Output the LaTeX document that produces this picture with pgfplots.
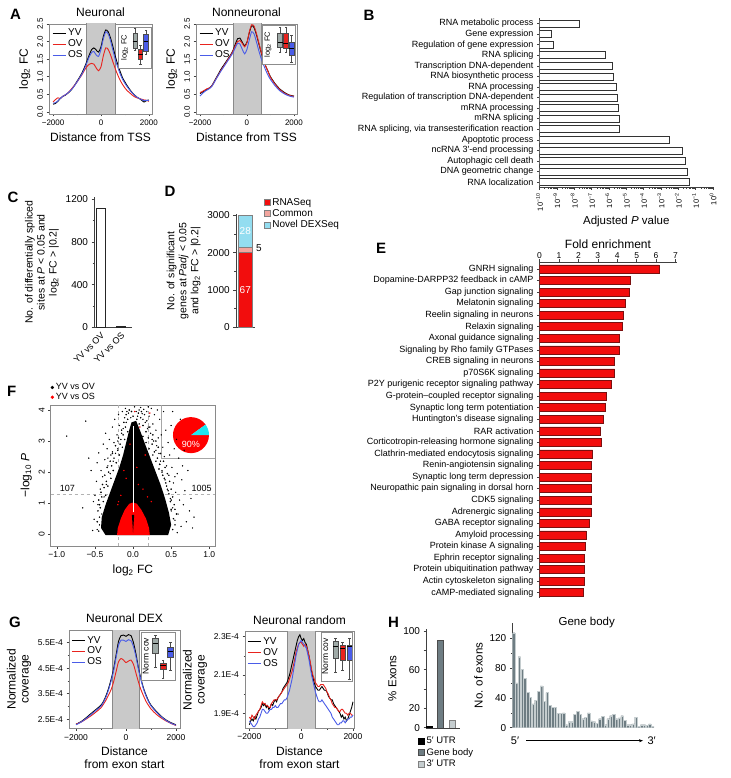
\documentclass[border=0pt]{standalone}
\usepackage{fontspec}
\setmainfont{Liberation Sans}
\usepackage{pgfplots}
\pgfplotsset{compat=1.18}
\usetikzlibrary{arrows.meta}

\definecolor{cOV}{HTML}{E8231E}
\definecolor{cOS}{HTML}{4A5CE8}
\definecolor{shade}{HTML}{C9C9C9}
\definecolor{frame}{HTML}{8A8A8A}
\definecolor{boxgray}{HTML}{9FAAA7}
\definecolor{barred}{HTML}{F20D0D}
\definecolor{baredge}{HTML}{7A1010}
\definecolor{common}{HTML}{F2A59E}
\definecolor{novel}{HTML}{93DDF0}
\definecolor{piecyan}{HTML}{1EE6F0}
\definecolor{slate}{HTML}{6E7D83}
\definecolor{lightslate}{HTML}{C5CDCF}

\newcommand{\fs}[2]{\fontsize{#1}{#2}\selectfont}
% box of an inset boxplot: centre, left, right, low whisker, low quartile, median, up quartile, up whisker, colour
\newcommand{\bx}[9]{%
  \addplot[black!70, line width=0.4pt, mark=-, mark size=1.3pt] coordinates {(#1,#4)(#1,#5)};
  \addplot[black!70, line width=0.4pt, mark=-, mark size=1.3pt] coordinates {(#1,#7)(#1,#8)};
  \addplot[fill=#9, draw=black!70, line width=0.4pt] coordinates {(#2,#5)(#3,#5)(#3,#7)(#2,#7)} -- cycle;
  \addplot[black, line width=0.5pt] coordinates {(#2,#6)(#3,#6)};
}

\pgfplotsset{
  every axis/.append style={scale only axis, anchor=south west,
    /pgf/number format/assume math mode=true, /pgf/number format/1000 sep={},
    tick align=outside, major tick length=2.5pt, minor tick length=1.5pt,
    axis line style={black!75}, every tick/.style={black!75, line width=0.5pt}},
  prof/.style={
    axis line style={frame, line width=0.9pt},
    tick pos=left,
    xtick={-2000,0,2000}, xticklabels={−2000,0,2000}, minor xtick={-1000,1000},
    tick label style={font=\fs{8}{9}},
    label style={font=\fs{12}{13}},
    title style={font=\fs{12}{13}, yshift=-2pt},
    legend style={draw=none, fill=none, font=\fs{10}{11}, at={(0.03,0.97)},
      anchor=north west, inner sep=0pt, row sep=-1.5pt, cells={anchor=west}},
    legend image code/.code={\draw[#1] (0pt,0pt) -- (13pt,0pt);},
  },
  inset/.style={axis line style={draw=black!45, line width=0.5pt},
    axis background/.style={fill=white}, xtick=\empty, ytick=\empty,
    ylabel style={at={(axis description cs:#1,0.5)}, anchor=center, font=\fs{7.5}{8}}},
}

\begin{document}
\begin{tikzpicture}
\useasboundingbox (0pt,-778pt) rectangle (730pt,0pt);

% ---------- panel letters and loose text
\foreach \l/\x/\y in {A/15.5/14, B/369/15, C/13/197, D/170/191, E/381/248, F/11.7/391, G/15/622, H/393.5/622}
  \node[font=\bfseries\fs{15}{15}] at (\x pt,-\y pt) {\l};
\node[font=\fs{11.5}{12}] at (586.7pt,-622.3pt) {Gene body};
\node[font=\fs{11}{12}] at (515pt,-740.7pt) {5′};
\node[font=\fs{11}{12}] at (651.7pt,-740.7pt) {3′};
\draw[-{Stealth[length=4pt]}, line width=0.6pt] (526pt,-740.7pt) -- (643pt,-740.7pt);

% ---------- A neuronal
\begin{axis}[prof, at={(49pt,-114pt)}, width=103pt, height=90pt,
  xmin=-2170, xmax=2130, ymin=-0.06, ymax=2.5,
  ytick={0,0.5,1,1.5,2,2.5},
  yticklabel style={rotate=90, anchor=south, /pgf/number format/fixed,
    /pgf/number format/fixed zerofill, /pgf/number format/precision=1},
  title={Neuronal}, xlabel={Distance from TSS}, ylabel={log\textsubscript{2} FC}]
\addplot[fill=shade, draw=frame, line width=0.6pt, forget plot]
  coordinates {(-600,-1)(-600,3)(600,3)(600,-1)} -- cycle;
\addplot[black, line width=0.9pt, smooth, tension=0.4] coordinates {
 (-2000,0.22)(-1900,0.24)(-1800,0.30)(-1700,0.38)(-1600,0.44)(-1500,0.47)(-1400,0.52)
 (-1300,0.58)(-1200,0.66)(-1100,0.76)(-1000,0.87)(-900,0.98)(-800,1.10)(-700,1.25)
 (-600,1.42)(-500,1.60)(-400,1.76)(-300,1.82)(-200,1.76)(-100,1.70)(0,1.85)(100,2.15)
 (200,2.33)(300,2.28)(400,2.10)(500,1.85)(600,1.58)(700,1.35)(800,1.15)(900,0.97)
 (1000,0.85)(1100,0.74)(1200,0.64)(1300,0.55)(1400,0.48)(1500,0.42)(1600,0.38)
 (1700,0.33)(1800,0.28)(1900,0.32)(2000,0.34)};
\addlegendentry{YV}
\addplot[cOV, line width=0.9pt, smooth, tension=0.4] coordinates {
 (-2000,0.28)(-1900,0.35)(-1800,0.40)(-1700,0.38)(-1600,0.44)(-1500,0.48)(-1400,0.53)
 (-1300,0.60)(-1200,0.68)(-1100,0.76)(-1000,0.85)(-900,0.95)(-800,1.05)(-700,1.17)
 (-600,1.28)(-500,1.35)(-400,1.38)(-300,1.36)(-200,1.25)(-100,1.17)(0,1.28)(100,1.60)
 (200,1.82)(300,1.78)(400,1.62)(500,1.42)(600,1.22)(700,1.05)(800,0.90)(900,0.78)
 (1000,0.68)(1100,0.60)(1200,0.54)(1300,0.48)(1400,0.43)(1500,0.40)(1600,0.38)
 (1700,0.36)(1800,0.34)(1900,0.33)(2000,0.30)};
\addlegendentry{OV}
\addplot[cOS, line width=0.9pt, smooth, tension=0.4] coordinates {
 (-2000,0.25)(-1900,0.26)(-1800,0.31)(-1700,0.38)(-1600,0.44)(-1500,0.48)(-1400,0.53)
 (-1300,0.59)(-1200,0.66)(-1100,0.75)(-1000,0.85)(-900,0.96)(-800,1.07)(-700,1.21)
 (-600,1.38)(-500,1.55)(-400,1.68)(-300,1.72)(-200,1.62)(-100,1.58)(0,1.78)(100,2.08)
 (200,2.28)(300,2.22)(400,2.02)(500,1.75)(600,1.48)(700,1.27)(800,1.08)(900,0.93)
 (1000,0.81)(1100,0.71)(1200,0.62)(1300,0.54)(1400,0.47)(1500,0.42)(1600,0.38)
 (1700,0.35)(1800,0.32)(1900,0.33)(2000,0.32)};
\addlegendentry{OS}
\end{axis}
\begin{axis}[inset=0.2, at={(118pt,-68pt)}, width=33pt, height=41pt,
  xmin=-2.15, xmax=3.96, ymin=-5, ymax=118, ylabel={log\textsubscript{2} FC}]
\bx{1}{0.58}{1.42}{47}{55}{75}{100}{115}{boxgray}
\bx{2}{1.58}{2.42}{5}{20}{35}{50}{62}{cOV}
\bx{3}{2.58}{3.42}{35}{45}{75}{95}{108}{cOS}
\end{axis}

% ---------- A nonneuronal
\begin{axis}[prof, at={(196pt,-114pt)}, width=101pt, height=90pt,
  xmin=-2170, xmax=2130, ymin=-0.06, ymax=2.5,
  ytick={0,0.5,1,1.5,2,2.5},
  yticklabel style={rotate=90, anchor=south, /pgf/number format/fixed,
    /pgf/number format/fixed zerofill, /pgf/number format/precision=1},
  title={Nonneuronal}, xlabel={Distance from TSS}, ylabel={log\textsubscript{2} FC}]
\addplot[fill=shade, draw=frame, line width=0.6pt, forget plot]
  coordinates {(-600,-1)(-600,3)(600,3)(600,-1)} -- cycle;
\addplot[black, line width=0.9pt, smooth, tension=0.4] coordinates {
 (-2000,0.52)(-1900,0.56)(-1800,0.60)(-1700,0.64)(-1600,0.68)(-1500,0.74)(-1400,0.86)
 (-1300,0.98)(-1200,1.10)(-1100,1.22)(-1000,1.32)(-900,1.42)(-800,1.52)(-700,1.62)
 (-600,1.74)(-500,1.92)(-400,2.08)(-300,2.10)(-200,1.98)(-100,1.88)(0,1.98)(100,2.25)
 (200,2.45)(300,2.40)(400,2.20)(500,1.95)(600,1.70)(700,1.50)(800,1.30)(900,1.15)
 (1000,1.00)(1200,0.80)(1400,0.65)(1600,0.55)(1800,0.48)(2000,0.45)};
\addlegendentry{YV}
\addplot[cOV, line width=0.9pt, smooth, tension=0.4] coordinates {
 (-2000,0.55)(-1900,0.58)(-1800,0.62)(-1700,0.66)(-1600,0.68)(-1500,0.73)(-1400,0.84)
 (-1300,0.96)(-1200,1.07)(-1100,1.19)(-1000,1.29)(-900,1.39)(-800,1.50)(-700,1.60)
 (-600,1.72)(-500,1.88)(-400,2.00)(-300,2.03)(-200,1.95)(-100,1.85)(0,1.97)(100,2.28)
 (200,2.48)(300,2.44)(400,2.24)(500,1.98)(600,1.72)(700,1.50)(800,1.30)(900,1.14)
 (1000,0.98)(1200,0.78)(1400,0.63)(1600,0.53)(1800,0.47)(2000,0.44)};
\addlegendentry{OV}
\addplot[cOS, line width=0.9pt, smooth, tension=0.4] coordinates {
 (-2000,0.45)(-1900,0.52)(-1800,0.58)(-1700,0.62)(-1600,0.66)(-1500,0.72)(-1400,0.83)
 (-1300,0.95)(-1200,1.06)(-1100,1.17)(-1000,1.27)(-900,1.37)(-800,1.47)(-700,1.57)
 (-600,1.68)(-500,1.82)(-400,1.95)(-300,1.93)(-200,1.78)(-100,1.65)(0,1.78)(100,2.05)
 (200,2.28)(300,2.22)(400,2.00)(500,1.75)(600,1.53)(700,1.35)(800,1.18)(900,1.04)
 (1000,0.92)(1200,0.74)(1400,0.60)(1600,0.51)(1800,0.45)(2000,0.42)};
\addlegendentry{OS}
\end{axis}
\begin{axis}[inset=0.18, at={(262pt,-64pt)}, width=33pt, height=39pt,
  xmin=-2.16, xmax=3.6, ymin=6, ymax=45, ylabel={log\textsubscript{2} FC}]
\bx{1}{0.55}{1.45}{18}{23}{28}{37}{43}{boxgray}
\bx{2}{1.55}{2.45}{18}{22}{26.7}{37}{43}{cOV}
\bx{3}{2.55}{3.45}{8}{15}{21.7}{28}{35}{cOS}
\end{axis}

% ---------- B
\begin{axis}[at={(539.5pt,-187.3pt)}, width=173.5pt, height=169pt,
  xbar, xmode=log, log origin x=infty, xmin=1e-10, xmax=1, ymin=0.5, ymax=16.5,
  axis x line*=bottom, axis y line*=left, bar width=7pt,
  xtick={1e-10,1e-9,1e-8,1e-7,1e-6,1e-5,1e-4,1e-3,1e-2,1e-1,1},
  xticklabels={10\textsuperscript{−10},10\textsuperscript{−9},10\textsuperscript{−8},
    10\textsuperscript{−7},10\textsuperscript{−6},10\textsuperscript{−5},10\textsuperscript{−4},
    10\textsuperscript{−3},10\textsuperscript{−2},10\textsuperscript{−1},10\textsuperscript{0}},
  xticklabel style={rotate=90, anchor=east, font=\fs{7.5}{8}},
  ytick={1,...,16},
  yticklabels={RNA localization, DNA geometric change, Autophagic cell death,
    ncRNA 3′-end processing, Apoptotic process, {RNA splicing, via transesterification reaction},
    mRNA splicing, mRNA processing, Regulation of transcription DNA-dependent, RNA processing,
    RNA biosynthetic process, Transcription DNA-dependent, RNA splicing,
    Regulation of gene expression, Gene expression, RNA metabolic process},
  yticklabel style={font=\fs{9}{10}},
  xlabel={Adjusted \textit{P} value}, xlabel style={font=\fs{11.5}{12}, yshift=2pt}]
\addplot[fill=white, draw=black!80, line width=0.6pt] coordinates {
 (4.1e-2,1)(3.5e-2,2)(2.4e-2,3)(1.78e-2,4)(2.95e-3,5)(3.9e-6,6)(3.9e-6,7)(3.5e-6,8)
 (3.2e-6,9)(2.8e-6,10)(1.74e-6,11)(1.66e-6,12)(6.5e-7,13)(6.5e-10,14)(4.9e-10,15)(2.1e-8,16)};
\end{axis}

% ---------- C
\begin{axis}[at={(94pt,-327.3pt)}, width=38pt, height=130pt,
  ybar, bar width=9pt, xmin=0.68, xmax=2.56, ymin=0, ymax=1220,
  axis x line*=bottom, axis y line*=left,
  xtick={1,2}, xticklabels={YV vs OV, YV vs OS}, xtick style={draw=none},
  xticklabel style={rotate=45, anchor=north east, font=\fs{9}{10}, inner sep=1pt},
  ytick={0,400,800,1200}, minor ytick={200,600,1000},
  yticklabel style={font=\fs{10}{11}},
  ylabel={No. of differentially spliced\\sites at \textit{P} < 0.05 and\\log\textsubscript{2} FC > |0.2|},
  ylabel style={align=center, font=\fs{10.5}{12}}]
\addplot[fill=white, draw=black!85, line width=0.6pt] coordinates {(1,1115)(2,8)};
\end{axis}

% ---------- D
\begin{axis}[at={(235.7pt,-327.3pt)}, width=19.3pt, height=113pt,
  ybar stacked, bar width=14pt, xmin=0.4, xmax=1.6, ymin=0, ymax=3030,
  axis x line*=bottom, axis y line*=left, xtick=\empty,
  ytick={0,1000,2000,3000}, minor ytick={500,1500,2500},
  yticklabel style={font=\fs{10}{11}},
  ylabel={No. of significant\\genes at \textit{Padj} < 0.05\\and log\textsubscript{2} FC > |0.2|},
  ylabel style={align=center, font=\fs{10.5}{12}},
  legend style={at={(axis description cs:1.45,1.16)}, anchor=north west, draw=none,
    fill=none, font=\fs{10}{11}, inner sep=0pt, row sep=-1.5pt, cells={anchor=west}},
  legend image code/.code={\draw[#1] (0pt,-3pt) rectangle (6pt,3pt);}]
\addplot[fill=barred, draw=black!50] coordinates {(1,2010)};
\addlegendentry{RNASeq}
\addplot[fill=common, draw=black!50] coordinates {(1,150)};
\addlegendentry{Common}
\addplot[fill=novel, draw=black!50] coordinates {(1,840)};
\addlegendentry{Novel DEXSeq}
\end{axis}
\node[white, font=\fs{10}{11}] at (245.3pt,-290pt) {67};
\node[white, font=\fs{10}{11}] at (245.3pt,-231pt) {28};
\node[font=\fs{10}{11}] at (259pt,-248.5pt) {5};

% ---------- E
\begin{axis}[at={(539.5pt,-598pt)}, width=137pt, height=336pt,
  xbar, bar width=8pt, xmin=0, xmax=7.05, ymin=0.54, ymax=29.6,
  axis x line*=top, axis y line*=left,
  xtick={0,...,7}, xticklabel style={font=\fs{8.5}{9}, inner sep=1pt},
  xlabel={Fold enrichment}, xlabel style={font=\fs{12}{13}, yshift=-1pt},
  ytick={1,...,29},
  yticklabels={cAMP-mediated signaling, Actin cytoskeleton signaling,
    Protein ubiquitination pathway, Ephrin receptor signaling, Protein kinase A signaling,
    Amyloid processing, GABA receptor signaling, Adrenergic signaling, CDK5 signaling,
    Neuropathic pain signaling in dorsal horn, Synaptic long term depression,
    Renin-angiotensin signaling, Clathrin-mediated endocytosis signaling,
    Corticotropin-releasing hormone signaling, RAR activation, Huntington’s disease signaling,
    Synaptic long term potentiation, G-protein–coupled receptor signaling,
    P2Y purigenic receptor signaling pathway, p70S6K signaling, CREB signaling in neurons,
    Signaling by Rho family GTPases, Axonal guidance signaling, Relaxin signaling,
    Reelin signaling in neurons, Melatonin signaling, Gap junction signaling,
    Dopamine-DARPP32 feedback in cAMP, GNRH signaling},
  yticklabel style={font=\fs{9}{10}}]
\addplot[fill=barred, draw=baredge, line width=0.5pt] coordinates {
 (2.23,1)(2.28,2)(2.28,3)(2.28,4)(2.33,5)(2.38,6)(2.56,7)(2.64,8)(2.64,9)(2.64,10)
 (2.67,11)(2.64,12)(2.73,13)(3.17,14)(3.15,15)(3.27,16)(3.36,17)(3.46,18)(3.67,19)
 (3.87,20)(3.87,21)(4.10,22)(4.10,23)(4.25,24)(4.32,25)(4.39,26)(4.60,27)(4.65,28)(6.14,29)};
\end{axis}

% ---------- F
\begin{axis}[at={(50.7pt,-546pt)}, width=164.3pt, height=141pt,
  xmin=-1.08, xmax=1.075, ymin=-0.38, ymax=4.16,
  axis line style={frame, line width=0.9pt}, tick pos=left,
  xtick={-1,-0.5,0,0.5,1}, xticklabels={−1.0,−0.5,0.0,0.5,1.0},
  ytick={0,1,2,3,4}, yticklabel style={rotate=90, anchor=south},
  tick label style={font=\fs{8.5}{9}}, label style={font=\fs{12}{13}},
  xlabel={log\textsubscript{2} FC}, ylabel={−log\textsubscript{10} \textit{P}},
  legend style={at={(axis description cs:0,1.012)}, anchor=south west, draw=none,
    fill=none, font=\fs{9}{10}, inner sep=0pt, row sep=-2pt, cells={anchor=west}}]
\addlegendimage{only marks, mark=*, mark size=1.5pt, black}
\addlegendentry{YV vs OV}
\addlegendimage{only marks, mark=*, mark size=1.5pt, red}
\addlegendentry{YV vs OS}
\addplot[gray!60, dashed, line width=0.5pt, forget plot] coordinates {(-0.2,-0.38)(-0.2,4.16)};
\addplot[gray!60, dashed, line width=0.5pt, forget plot] coordinates {(0.2,-0.38)(0.2,4.16)};
\addplot[gray!60, dashed, line width=0.5pt, forget plot] coordinates {(-1.08,1.3)(1.075,1.3)};
% dense core of the point cloud
\addplot[fill=black, draw=none, forget plot] coordinates {
 (-0.36,-0.03)(-0.42,0.20)(-0.41,0.55)(-0.36,0.95)(-0.30,1.35)(-0.24,1.75)(-0.18,2.15)
 (-0.13,2.55)(-0.09,2.95)(-0.05,3.35)(-0.02,3.60)(0.04,3.65)(0.09,3.35)(0.15,2.95)
 (0.22,2.50)(0.29,2.05)(0.36,1.60)(0.42,1.15)(0.47,0.70)(0.50,0.30)(0.46,-0.03)} -- cycle;
\addplot[only marks, mark=*, mark size=0.55pt, black, forget plot] coordinates {
 (-0.45,0.10)(-0.47,0.40)(-0.44,0.55)(-0.46,0.75)(-0.43,0.85)(-0.45,1.10)(-0.41,1.20)
 (-0.42,1.35)(-0.38,1.50)(-0.40,1.60)(-0.35,1.70)(-0.37,1.90)(-0.32,2.00)(-0.34,2.15)
 (-0.28,2.20)(-0.30,2.35)(-0.25,2.45)(-0.27,2.60)(-0.20,2.70)(-0.23,2.85)(-0.17,2.90)
 (-0.19,3.10)(-0.13,3.20)(-0.15,3.35)(-0.10,3.45)(-0.12,3.60)(-0.07,3.70)(-0.09,3.85)
 (-0.05,4.00)(-0.44,0.95)(-0.39,1.05)(-0.36,1.25)(-0.33,1.55)(-0.29,1.80)(-0.26,2.05)
 (-0.22,2.30)(-0.18,2.55)(-0.14,2.80)(-0.11,3.05)(-0.07,3.30)
 (0.52,0.15)(0.55,0.30)(0.53,0.50)(0.57,0.65)(0.50,0.80)(0.54,0.95)(0.49,1.05)(0.52,1.20)
 (0.47,1.30)(0.50,1.45)(0.44,1.55)(0.48,1.70)(0.41,1.80)(0.45,1.95)(0.38,2.00)(0.42,2.15)
 (0.35,2.25)(0.40,2.35)(0.32,2.45)(0.36,2.60)(0.28,2.65)(0.33,2.80)(0.25,2.90)(0.30,3.00)
 (0.20,3.10)(0.26,3.20)(0.17,3.30)(0.22,3.45)(0.13,3.50)(0.18,3.65)(0.10,3.75)(0.15,3.85)
 (0.05,3.70)(0.20,4.10)(0.11,3.95)(0.55,0.80)(0.50,1.10)(0.46,1.40)(0.43,1.65)(0.39,1.90)
 (0.34,2.10)(0.30,2.35)(0.26,2.55)(0.21,2.75)(0.17,2.95)(0.13,3.15)(0.08,3.55)(0.00,3.80)
 (-0.02,3.95)(0.07,3.90)};
\addplot[only marks, mark=*, mark size=0.45pt, black, forget plot] coordinates {
 (-0.87,3.16)(-0.62,3.64)(-0.66,0.85)(-0.58,2.45)(-0.55,2.05)(-0.53,0.12)(-0.51,0.48)
 (-0.50,1.25)(-0.48,1.70)(-0.47,2.30)(-0.46,0.95)(-0.45,2.62)(-0.44,0.30)(-0.43,1.45)
 (-0.42,2.05)(-0.41,0.65)(-0.40,1.85)(-0.39,2.90)(-0.38,1.20)(-0.37,2.40)(-0.36,3.25)
 (-0.35,1.60)(-0.34,2.75)(-0.33,2.20)(-0.31,3.05)(-0.30,1.95)(-0.29,2.55)(-0.27,3.45)
 (-0.26,2.35)(-0.25,2.95)(-0.24,3.70)(-0.23,2.60)(-0.21,3.20)(-0.20,2.75)(-0.19,3.85)
 (-0.18,3.50)(-0.16,3.05)(-0.14,3.95)(-0.13,3.40)(-0.11,3.75)(-0.10,4.05)(-0.09,3.60)
 (0.10,4.08)(0.12,3.88)(0.14,4.02)(0.16,3.60)(0.18,3.95)(0.20,3.45)(0.21,3.80)(0.23,3.25)
 (0.24,4.05)(0.26,3.55)(0.27,3.00)(0.28,3.85)(0.30,3.35)(0.31,2.85)(0.32,4.00)(0.33,3.10)
 (0.34,2.60)(0.35,3.70)(0.36,2.35)(0.37,3.20)(0.38,2.05)(0.39,2.80)(0.40,3.95)(0.41,2.50)
 (0.42,1.75)(0.43,3.35)(0.44,2.20)(0.45,1.45)(0.46,2.95)(0.47,1.90)(0.48,2.55)(0.49,1.15)
 (0.50,3.50)(0.51,2.15)(0.52,0.85)(0.53,1.65)(0.54,2.75)(0.55,0.45)(0.56,1.35)(0.57,3.05)
 (0.58,1.95)(0.59,0.65)(0.60,2.45)(0.61,1.10)(0.62,3.70)(0.63,0.25)(0.64,1.75)(0.65,2.20)
 (0.66,0.95)(0.68,1.40)(0.70,0.40)(0.72,2.05)(0.74,0.75)(0.76,1.15)(0.78,0.20)(0.80,0.55)
 (0.58,0.05)(0.67,2.70)(0.52,3.95)(-0.52,1.05)(-0.47,0.15)(0.55,1.85)(0.46,0.35)(0.50,0.75)
 (-0.06,3.90)(0.02,4.10)(0.06,3.80)(-0.03,3.75)(0.08,4.00)(-0.08,3.95)(0.04,3.95)(0.13,3.70)
 (-0.15,3.25)(0.19,3.40)(-0.20,3.00)(0.25,3.05)(0.30,2.70)(-0.27,2.65)(0.35,2.25)(-0.33,2.45)};
\addplot[fill=red, draw=none, forget plot] coordinates {
 (-0.21,-0.03)(-0.20,0.20)(-0.16,0.50)(-0.11,0.78)(-0.05,0.98)(0,1.02)(0.05,0.98)
 (0.11,0.78)(0.17,0.50)(0.21,0.20)(0.22,-0.03)} -- cycle;
\addplot[fill=black, draw=none, forget plot] coordinates {(-0.015,0.62)(0,0.05)(0.015,0.62)} -- cycle;
\addplot[white, line width=0.9pt, forget plot] coordinates {(0.004,0.7)(0.004,3.5)};
\addplot[only marks, mark=*, mark size=0.5pt, red, forget plot] coordinates {
 (-0.16,1.25)(0.13,1.45)(-0.09,1.80)(0.05,2.15)(0.16,2.55)(-0.12,2.05)(0.19,1.20)
 (-0.19,1.05)(0.09,3.45)(0.22,3.90)(-0.04,2.90)(0.07,1.60)(-0.20,0.95)(0.24,1.05)(0.02,3.95)};
\addplot[gray!70, line width=0.6pt, forget plot] coordinates {(0.37,4.16)(0.37,2.44)(1.075,2.44)};
\fill[red] (axis cs:0.76,3.19) -- ++(36:18pt) arc[start angle=36, end angle=360, radius=18pt] -- cycle;
\fill[piecyan] (axis cs:0.76,3.19) -- ++(0:18pt) arc[start angle=0, end angle=36, radius=18pt] -- cycle;
\node[white, font=\fs{9}{10}] at (axis cs:0.76,3.19) [yshift=-9pt] {90\%};
\node[font=\fs{9}{10}] at (axis cs:-0.86,1.47) {107};
\node[font=\fs{9}{10}] at (axis cs:0.9,1.47) {1005};
\end{axis}

% ---------- G neuronal DEX
\begin{axis}[prof, at={(69pt,-728.3pt)}, width=111pt, height=98.3pt,
  xmin=-2280, xmax=2160, ymin=2.14, ymax=6.0,
  ytick={2.5,3.5,4.5,5.5}, yticklabels={2.5E-4,3.5E-4,4.5E-4,5.5E-4}, minor ytick={3,4,5},
  tick label style={font=\fs{8.5}{9}},
  title={Neuronal DEX}, xlabel={Distance\\from exon start}, xlabel style={align=center},
  ylabel={Normalized\\coverage}, ylabel style={align=center},
  legend style={at={(0.02,0.96)}}]
\addplot[fill=shade, draw=frame, line width=0.6pt, forget plot]
  coordinates {(-550,0)(-550,7)(550,7)(550,0)} -- cycle;
\addplot[black, line width=0.9pt, smooth, tension=0.4] coordinates {
 (-2000,2.30)(-1800,2.40)(-1600,2.55)(-1400,2.72)(-1200,2.88)(-1000,3.05)(-900,3.20)
 (-800,3.42)(-700,3.70)(-600,4.05)(-500,4.45)(-400,5.00)(-300,5.55)(-200,5.78)(-100,5.80)
 (0,5.75)(100,5.82)(200,5.78)(300,5.50)(400,5.05)(500,4.50)(600,4.08)(700,3.72)(800,3.45)
 (900,3.22)(1000,3.05)(1200,2.82)(1400,2.62)(1600,2.47)(1800,2.36)(2000,2.28)};
\addlegendentry{YV}
\addplot[cOV, line width=0.9pt, smooth, tension=0.4] coordinates {
 (-2000,2.30)(-1800,2.38)(-1600,2.50)(-1400,2.63)(-1200,2.78)(-1000,2.95)(-800,3.25)
 (-600,3.65)(-500,3.95)(-400,4.35)(-300,4.75)(-200,4.88)(-100,4.82)(0,4.72)(100,4.78)
 (200,4.82)(300,4.65)(400,4.30)(500,3.95)(600,3.65)(800,3.20)(1000,2.90)(1200,2.70)
 (1400,2.55)(1600,2.43)(1800,2.33)(2000,2.25)};
\addlegendentry{OV}
\addplot[cOS, line width=0.9pt, smooth, tension=0.4] coordinates {
 (-2000,2.28)(-1800,2.38)(-1600,2.52)(-1400,2.68)(-1200,2.84)(-1000,3.01)(-900,3.16)
 (-800,3.37)(-700,3.64)(-600,3.98)(-500,4.38)(-400,4.90)(-300,5.40)(-200,5.60)(-100,5.60)
 (0,5.55)(100,5.62)(200,5.58)(300,5.35)(400,4.95)(500,4.45)(600,4.03)(700,3.68)(800,3.41)
 (900,3.19)(1000,3.02)(1200,2.79)(1400,2.60)(1600,2.45)(1800,2.34)(2000,2.26)};
\addlegendentry{OS}
\end{axis}
\begin{axis}[inset=0.14, at={(141pt,-680pt)}, width=34pt, height=48pt,
  xmin=-0.93, xmax=3.6, ymin=10, ymax=58, ylabel={Norm cov},
  ylabel style={font=\fs{8.5}{9}}]
\bx{1}{0.62}{1.38}{23.3}{36.7}{46.7}{51.7}{55}{boxgray}
\bx{2}{1.62}{2.38}{11.7}{21}{24.3}{26.7}{30}{cOV}
\bx{3}{2.62}{3.38}{20}{33.3}{38.3}{43.3}{48.3}{cOS}
\end{axis}

% ---------- G neuronal random
\begin{axis}[prof, at={(245pt,-728pt)}, width=109pt, height=96.3pt,
  xmin=-2170, xmax=2040, ymin=1.823, ymax=2.326,
  ytick={1.9,2.1,2.3}, yticklabels={1.9E-4,2.1E-4,2.3E-4}, minor ytick={2.0,2.2},
  tick label style={font=\fs{8.5}{9}},
  title={Neuronal random}, xlabel={Distance\\from exon start}, xlabel style={align=center},
  ylabel={Normalized\\coverage}, ylabel style={align=center},
  legend style={at={(0.02,0.96)}}]
\addplot[fill=shade, draw=frame, line width=0.6pt, forget plot]
  coordinates {(-550,1)(-550,3)(550,3)(550,1)} -- cycle;
\addplot[black, line width=0.9pt] coordinates {
 (-2000,1.84)(-1950,1.86)(-1900,1.87)(-1850,1.86)(-1800,1.88)(-1750,1.87)(-1700,1.89)
 (-1650,1.91)(-1600,1.92)(-1550,1.93)(-1500,1.95)(-1450,1.94)(-1400,1.95)(-1350,1.93)
 (-1300,1.94)(-1250,1.92)(-1200,1.93)(-1150,1.95)(-1100,1.94)(-1050,1.96)(-1000,1.97)
 (-950,1.96)(-900,1.98)(-850,1.99)(-800,2.00)(-750,2.01)(-700,2.03)(-650,2.04)(-600,2.05)
 (-550,2.06)(-500,2.08)(-450,2.10)(-400,2.13)(-350,2.16)(-300,2.19)(-250,2.22)(-200,2.25)
 (-150,2.28)(-100,2.30)(-50,2.31)(0,2.29)(50,2.28)(100,2.29)(150,2.27)(200,2.26)(250,2.23)
 (300,2.20)(350,2.16)(400,2.12)(450,2.09)(500,2.06)(550,2.04)(600,2.03)(650,2.02)(700,2.02)
 (750,2.03)(800,2.04)(850,2.03)(900,2.02)(950,2.02)(1000,2.01)(1050,1.99)(1100,1.98)
 (1150,1.97)(1200,1.97)(1250,1.95)(1300,1.94)(1350,1.93)(1400,1.92)(1450,1.91)(1500,1.90)
 (1550,1.88)(1600,1.89)(1650,1.87)(1700,1.88)(1750,1.86)(1800,1.87)(1850,1.89)(1900,1.91)
 (1950,1.93)(2000,1.96)};
\addlegendentry{YV}
\addplot[cOV, line width=0.9pt] coordinates {
 (-2000,1.88)(-1950,1.87)(-1900,1.89)(-1850,1.88)(-1800,1.87)(-1750,1.89)(-1700,1.90)
 (-1650,1.91)(-1600,1.92)(-1550,1.94)(-1500,1.96)(-1450,1.95)(-1400,1.95)(-1350,1.94)
 (-1300,1.94)(-1250,1.93)(-1200,1.93)(-1150,1.95)(-1100,1.96)(-1050,1.97)(-1000,1.97)
 (-950,1.97)(-900,1.98)(-850,1.99)(-800,2.00)(-750,2.01)(-700,2.02)(-650,2.03)(-600,2.04)
 (-550,2.05)(-500,2.06)(-450,2.08)(-400,2.10)(-350,2.12)(-300,2.15)(-250,2.18)(-200,2.22)
 (-150,2.24)(-100,2.26)(-50,2.27)(0,2.27)(50,2.26)(100,2.25)(150,2.26)(200,2.25)(250,2.23)
 (300,2.20)(350,2.17)(400,2.13)(450,2.10)(500,2.08)(550,2.06)(600,2.05)(650,2.04)(700,2.04)
 (750,2.05)(800,2.05)(850,2.05)(900,2.04)(950,2.03)(1000,2.01)(1050,2.00)(1100,1.98)
 (1150,1.97)(1200,1.95)(1250,1.94)(1300,1.93)(1350,1.93)(1400,1.92)(1450,1.91)(1500,1.91)
 (1550,1.92)(1600,1.92)(1650,1.91)(1700,1.90)(1750,1.90)(1800,1.89)(1850,1.90)(1900,1.90)
 (1950,1.89)(2000,1.89)};
\addlegendentry{OV}
\addplot[cOS, line width=0.9pt] coordinates {
 (-2000,1.86)(-1950,1.85)(-1900,1.84)(-1850,1.83)(-1800,1.83)(-1750,1.84)(-1700,1.85)
 (-1650,1.87)(-1600,1.88)(-1550,1.90)(-1500,1.92)(-1450,1.92)(-1400,1.91)(-1350,1.90)
 (-1300,1.90)(-1250,1.91)(-1200,1.92)(-1150,1.92)(-1100,1.93)(-1050,1.93)(-1000,1.94)
 (-950,1.93)(-900,1.93)(-850,1.94)(-800,1.95)(-750,1.95)(-700,1.96)(-650,1.97)(-600,1.97)
 (-550,1.98)(-500,2.00)(-450,2.02)(-400,2.05)(-350,2.08)(-300,2.12)(-250,2.16)(-200,2.20)
 (-150,2.23)(-100,2.26)(-50,2.27)(0,2.28)(50,2.27)(100,2.26)(150,2.25)(200,2.24)(250,2.21)
 (300,2.18)(350,2.14)(400,2.10)(450,2.07)(500,2.04)(550,2.01)(600,1.99)(650,1.97)(700,1.96)
 (750,1.96)(800,1.97)(850,1.96)(900,1.95)(950,1.94)(1000,1.93)(1050,1.92)(1100,1.91)
 (1150,1.90)(1200,1.88)(1250,1.87)(1300,1.86)(1350,1.85)(1400,1.84)(1450,1.84)(1500,1.85)
 (1550,1.85)(1600,1.86)(1650,1.86)(1700,1.85)(1750,1.86)(1800,1.87)(1850,1.87)(1900,1.88)
 (1950,1.88)(2000,1.89)};
\addlegendentry{OS}
\end{axis}
\begin{axis}[inset=0.14, at={(321pt,-681pt)}, width=31pt, height=49pt,
  xmin=-1.07, xmax=3.36, ymin=9, ymax=58, ylabel={Norm cov},
  ylabel style={font=\fs{8.5}{9}}]
\bx{1}{0.62}{1.38}{18.3}{31.7}{43.3}{49}{51.7}{boxgray}
\bx{2}{1.62}{2.38}{20}{30}{41.7}{45}{48.3}{cOV}
\bx{3}{2.62}{3.38}{11}{30}{43.3}{45}{51.7}{cOS}
\end{axis}

% ---------- H exon location
\begin{axis}[at={(426pt,-727.7pt)}, width=34pt, height=98.7pt,
  xmin=0.76, xmax=3.64, ymin=0, ymax=102,
  axis x line*=bottom, axis y line*=left, xtick=\empty,
  ytick={0,20,40,60,80,100}, yticklabels={0,20,,60,,100},
  yticklabel style={font=\fs{10}{11}},
  ylabel={\% Exons}, ylabel style={font=\fs{11.5}{12}},
  legend style={at={(axis description cs:-0.235,-0.074)}, anchor=north west, draw=none,
    fill=none, font=\fs{9.5}{10}, inner sep=0pt, row sep=-1pt, cells={anchor=west}},
  legend image code/.code={\fill[#1] (0pt,-3pt) rectangle (6pt,3pt);}]
\addplot[ybar, bar width=6pt, bar shift=0pt, fill=black, draw=black] coordinates {(1,1.8)};
\addlegendentry{5′ UTR}
\addplot[ybar, bar width=6pt, bar shift=0pt, fill=slate, draw=black!70] coordinates {(2,90)};
\addlegendentry{Gene body}
\addplot[ybar, bar width=6pt, bar shift=0pt, fill=lightslate, draw=black!50] coordinates {(3,8)};
\addlegendentry{3′ UTR}
\end{axis}

% ---------- H gene body
\begin{axis}[at={(512.3pt,-727.7pt)}, width=141.7pt, height=104.7pt,
  ybar, bar width=2.5pt, xmin=0.5, xmax=51.5, ymin=0, ymax=140,
  axis x line=none, axis y line*=left,
  ytick={0,40,80,120}, minor ytick={20,60,100},
  yticklabel style={font=\fs{10}{11}},
  ylabel={No. of exons}, ylabel style={font=\fs{11.5}{12}}]
\addplot[fill=slate, draw=lightslate, line width=0.3pt] coordinates {
 (1,127)(2,60)(3,95)(4,78)(5,66)(6,47)(7,41)(8,32)(9,37)(10,49)(11,56)(12,35)(13,47)
 (14,30)(15,27)(16,27)(17,19)(18,19)(19,20)(20,4)(21,8)(22,8)(23,18)(24,22)(25,18)
 (26,12)(27,14)(28,20)(29,9)(30,8)(31,6)(32,12)(33,15)(34,4)(35,12)(36,16)(37,18)
 (38,12)(39,13)(40,16)(41,10)(42,4)(43,4)(44,5)(45,14)(46,2)(47,4)(48,4)(49,3)(50,5)(51,2)};
\end{axis}
\end{tikzpicture}
\end{document}
